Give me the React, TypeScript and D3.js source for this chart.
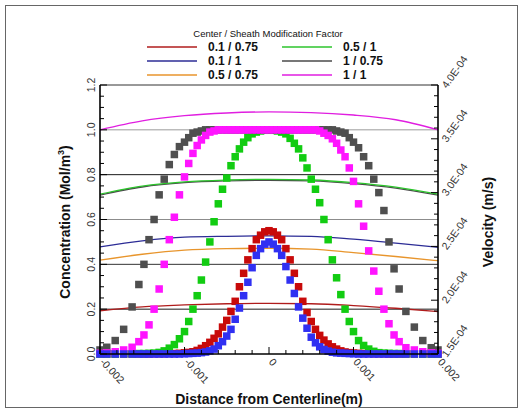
import React from "react";
import * as d3 from "d3";

// node positions across the channel (m)
const distance = [
  -0.002, -0.00192, -0.00182, -0.00172, -0.00162, -0.00154, -0.00148, -0.00142, -0.00136, -0.0013,
  -0.00124, -0.00118, -0.00112, -0.00106, -0.001, -0.00095, -0.0009, -0.00085, -0.0008, -0.00075,
  -0.0007, -0.00065, -0.0006, -0.00055, -0.0005, -0.00045, -0.0004, -0.00035, -0.0003, -0.00025,
  -0.0002, -0.00015, -0.0001, -0.00005, 0, 0.00005, 0.0001, 0.00015, 0.0002, 0.00025,
  0.0003, 0.00035, 0.0004, 0.00045, 0.0005, 0.00055, 0.0006, 0.00065, 0.0007, 0.00075,
  0.0008, 0.00085, 0.0009, 0.00095, 0.001, 0.00106, 0.00112, 0.00118, 0.00124, 0.0013,
  0.00136, 0.00142, 0.00148, 0.00154, 0.00162, 0.00172, 0.00182, 0.00192, 0.002,
];

// concentration (Mol/m3) at each node
const concRed = [
  0, 0, 0, 0, 0, 0, 0, 0, 0.001, 0.001,
  0.001, 0.002, 0.002, 0.003, 0.005, 0.007, 0.01, 0.016, 0.025, 0.037,
  0.052, 0.07, 0.09, 0.12, 0.15, 0.19, 0.235, 0.3, 0.36, 0.42,
  0.47, 0.51, 0.53, 0.545, 0.55, 0.545, 0.53, 0.51, 0.47, 0.42,
  0.36, 0.3, 0.235, 0.185, 0.145, 0.11, 0.083, 0.062, 0.045, 0.032,
  0.022, 0.014, 0.009, 0.006, 0.004, 0.003, 0.002, 0.002, 0.001, 0.001,
  0.001, 0, 0, 0, 0, 0, 0, 0, 0,
];
const concBlue = [
  0, 0, 0, 0, 0, 0, 0, 0, 0, 0,
  0, 0, 0, 0, 0.001, 0.002, 0.003, 0.004, 0.006, 0.009,
  0.014, 0.022, 0.037, 0.055, 0.08, 0.11, 0.155, 0.205, 0.26, 0.32,
  0.385, 0.44, 0.47, 0.49, 0.5, 0.49, 0.47, 0.44, 0.39, 0.33,
  0.27, 0.21, 0.16, 0.115, 0.075, 0.05, 0.032, 0.02, 0.013, 0.008,
  0.005, 0.004, 0.003, 0.002, 0.001, 0, 0, 0, 0, 0,
  0, 0, 0, 0, 0, 0, 0, 0, 0,
];
const concGreen = [
  0, 0, 0, 0.001, 0.001, 0.002, 0.002, 0.003, 0.004, 0.007,
  0.014, 0.026, 0.042, 0.068, 0.1, 0.145, 0.2, 0.26, 0.33, 0.41,
  0.5, 0.59, 0.67, 0.735, 0.785, 0.84, 0.88, 0.915, 0.945, 0.965,
  0.982, 0.99, 0.995, 0.998, 1.0, 0.998, 0.995, 0.99, 0.982, 0.962,
  0.94, 0.915, 0.875, 0.83, 0.78, 0.735, 0.675, 0.6, 0.51, 0.42,
  0.34, 0.265, 0.2, 0.145, 0.1, 0.06, 0.038, 0.022, 0.012, 0.006,
  0.004, 0.003, 0.002, 0.002, 0.001, 0.001, 0, 0, 0,
];
const concGray = [
  0.018, 0.03, 0.06, 0.11, 0.21, 0.31, 0.4, 0.51, 0.6, 0.71,
  0.78, 0.845, 0.89, 0.925, 0.945, 0.965, 0.985, 0.99, 0.995, 1.0,
  1.0, 1.0, 1.0, 1.0, 1.0, 1.0, 1.0, 1.0, 1.0, 1.0,
  1.0, 1.0, 1.0, 1.0, 1.0, 1.0, 1.0, 1.0, 1.0, 1.0,
  1.0, 1.0, 1.0, 1.0, 1.0, 1.0, 1.0, 1.0, 1.0, 1.0,
  0.995, 0.99, 0.985, 0.965, 0.945, 0.92, 0.88, 0.84, 0.78, 0.72,
  0.64, 0.5, 0.38, 0.29, 0.19, 0.12, 0.06, 0.028, 0.018,
];
const concPink = [
  0.003, 0.005, 0.01, 0.018, 0.03, 0.055, 0.085, 0.13, 0.2, 0.29,
  0.4, 0.51, 0.61, 0.71, 0.79, 0.85, 0.895, 0.93, 0.955, 0.975,
  0.99, 0.995, 1.0, 1.0, 1.0, 1.0, 1.0, 1.0, 1.0, 1.0,
  1.0, 1.0, 1.0, 1.0, 1.0, 1.0, 1.0, 1.0, 1.0, 1.0,
  1.0, 1.0, 1.0, 1.0, 1.0, 1.0, 0.995, 0.985, 0.975, 0.96,
  0.94, 0.91, 0.88, 0.83, 0.77, 0.67, 0.57, 0.46, 0.37, 0.28,
  0.2, 0.135, 0.085, 0.055, 0.028, 0.018, 0.01, 0.005, 0.003,
];

// velocity profiles (m/s), right axis
const velDistance = [-0.002, -0.0015, -0.001, -0.0005, 0, 0.0005, 0.001, 0.0015, 0.002];
const velRed = [1.902e-4, 1.938e-4, 1.956e-4, 1.967e-4, 1.971e-4, 1.967e-4, 1.95e-4, 1.925e-4, 1.894e-4];
const velBlue = [2.496e-4, 2.552e-4, 2.586e-4, 2.594e-4, 2.598e-4, 2.594e-4, 2.567e-4, 2.531e-4, 2.492e-4];
const velOrange = [2.373e-4, 2.427e-4, 2.465e-4, 2.479e-4, 2.483e-4, 2.475e-4, 2.442e-4, 2.406e-4, 2.367e-4];
const velGreen = [2.985e-4, 3.06e-4, 3.1e-4, 3.117e-4, 3.123e-4, 3.117e-4, 3.092e-4, 3.05e-4, 2.985e-4];
const velGray = [2.977e-4, 3.052e-4, 3.092e-4, 3.109e-4, 3.115e-4, 3.109e-4, 3.084e-4, 3.042e-4, 2.977e-4];
const velPink = [3.584e-4, 3.667e-4, 3.715e-4, 3.74e-4, 3.75e-4, 3.744e-4, 3.721e-4, 3.677e-4, 3.584e-4];

const concTicks = [0, 0.2, 0.4, 0.6, 0.8, 1.0, 1.2];
const velTicks = [1.5e-4, 2.0e-4, 2.5e-4, 3.0e-4, 3.5e-4, 4.0e-4];
const velTickLabels = ["1.5E-04", "2.0E-04", "2.5E-04", "3.0E-04", "3.5E-04", "4.0E-04"];
const distTicks = [-0.002, -0.001, 0, 0.001, 0.002];
const distTickLabels = ["-0.002", "-0.001", "0", "0.001", "0.002"];
const legendLabels = ["0.1 / 0.75", "0.1 / 1", "0.5 / 0.75", "0.5 / 1", "1 / 0.75", "1 / 1"];

const lineColors = ["#b01c1c", "#2c2c96", "#e8952c", "#2cc42c", "#4a4a4a", "#e01ee0"];
const markColors = { red: "#c80a0a", blue: "#3030f2", green: "#12cc12", gray: "#4f4f4f", pink: "#ff14ff" };
const gridColors = ["#1a1a1a", "#333333", "#8c8c8c", "#1a1a1a", "#9a9a9a"];

const font = "'Liberation Sans', Arial, sans-serif";

export default function App() {
  const left = 100, right = 438, top = 85, bottom = 354;
  const x = d3.scaleLinear().domain([-0.002, 0.002]).range([left, right]);
  const yC = d3.scaleLinear().domain([0, 1.2]).range([bottom, top]);
  const yV = d3.scaleLinear().domain([1.5e-4, 4.0e-4]).range([bottom, top]);

  const velLine = (vals: number[]) =>
    d3
      .line<number>()
      .x((_, i) => x(velDistance[i]))
      .y((d) => yV(d))
      .curve(d3.curveMonotoneX)(vals) as string;

  const lines = [velOrange, velRed, velBlue, velGray, velGreen, velPink];
  const lineCol = [lineColors[2], lineColors[0], lineColors[1], lineColors[4], lineColors[3], lineColors[5]];

  const markers: [number[], string][] = [
    [concRed, markColors.red],
    [concGreen, markColors.green],
    [concGray, markColors.gray],
    [concPink, markColors.pink],
    [concBlue, markColors.blue],
  ];
  const ms = 7.5;

  const concMinor = d3.range(0, 1.2001, 0.05);
  const velMinor = d3.range(1.5e-4, 4.0001e-4, 0.1e-4);
  const distMinor = d3.range(-0.002, 0.00201, 0.0002);

  return (
    <svg width={528} height={410} style={{ position: "absolute", left: 0, top: 0, background: "#fff" }} fontFamily={font}>
      <rect x={5.5} y={5.5} width={512} height={402} fill="none" stroke="#666" strokeWidth={1} />

      {/* grid lines */}
      {concTicks.slice(1, 6).map((t, i) => (
        <line key={"g" + t} x1={left} x2={right} y1={yC(t)} y2={yC(t)} stroke={gridColors[i]} strokeWidth={1} />
      ))}

      {/* velocity lines */}
      {lines.map((vals, i) => (
        <path key={"l" + i} d={velLine(vals)} fill="none" stroke={lineCol[i]} strokeWidth={1.3} />
      ))}

      {/* concentration markers */}
      {markers.map(([vals, col], k) => (
        <g key={"m" + k} fill={col}>
          {vals.map((v, i) => (
            <rect key={i} x={x(distance[i]) - ms / 2} y={yC(v) - ms / 2} width={ms} height={ms} />
          ))}
        </g>
      ))}

      {/* frame */}
      <line x1={left} x2={right} y1={top} y2={top} stroke="#333" strokeWidth={1} />
      <line x1={left} x2={left} y1={top} y2={bottom} stroke="#000" strokeWidth={1.6} />
      <line x1={right} x2={right} y1={top} y2={bottom} stroke="#000" strokeWidth={1.6} />
      <line x1={left} x2={right} y1={bottom} y2={bottom} stroke="#000" strokeWidth={1.6} />

      {/* left axis ticks */}
      {concMinor.map((t, i) => (
        <line key={"cm" + i} x1={left} x2={left + (i % 4 === 0 ? 7 : 4)} y1={yC(t)} y2={yC(t)} stroke="#000" strokeWidth={1} />
      ))}
      {concTicks.map((t) => (
        <text key={"ct" + t} transform={`translate(95,${yC(t)}) rotate(-90)`} textAnchor="middle" fontSize={10.5} fill="#333">
          {d3.format(".1f")(t)}
        </text>
      ))}

      {/* right axis ticks */}
      {velMinor.map((t, i) => (
        <line key={"vm" + i} x1={right} x2={right - (i % 5 === 0 ? 7 : 4)} y1={yV(t)} y2={yV(t)} stroke="#000" strokeWidth={1} />
      ))}
      {velTicks.map((t, i) => (
        <text key={"vt" + t} transform={`translate(444,${yV(t) + 2}) rotate(-55)`} dy="0.35em" fontSize={10.5} fill="#333">
          {velTickLabels[i]}
        </text>
      ))}

      {/* bottom axis ticks */}
      {distMinor.map((t, i) => (
        <line key={"dm" + i} x1={x(t)} x2={x(t)} y1={bottom} y2={bottom - (i % 5 === 0 ? 7 : 4)} stroke="#000" strokeWidth={1} />
      ))}
      {distTicks.map((t, i) => (
        <text key={"dt" + t} transform={`translate(${x(t) + 2},360) rotate(47)`} dy="0.35em" fontSize={10.5} fill="#333">
          {distTickLabels[i]}
        </text>
      ))}

      {/* axis titles */}
      <text transform="translate(70,222) rotate(-90)" textAnchor="middle" fontSize={14} fontWeight="bold" fill="#111">
        Concentration (Mol/m<tspan fontSize={9} dy={-6}>3</tspan><tspan dy={6}>)</tspan>
      </text>
      <text transform="translate(493,222) rotate(-90)" textAnchor="middle" fontSize={14} fontWeight="bold" fill="#111">
        Velocity (m/s)
      </text>
      <text x={269} y={404} textAnchor="middle" fontSize={14} fontWeight="bold" fill="#111">
        Distance from Centerline(m)
      </text>

      {/* legend */}
      <text x={268} y={37} textAnchor="middle" fontSize={9.5} fill="#111">
        Center / Sheath Modification Factor
      </text>
      {legendLabels.map((lab, i) => {
        const col = Math.floor(i / 3);
        const row = i % 3;
        const y = 47 + row * 14;
        const lx = col === 0 ? 147 : 282;
        return (
          <g key={"lg" + i}>
            <line x1={lx} x2={lx + 50} y1={y} y2={y} stroke={lineColors[i]} strokeWidth={1.5} />
            <text x={lx + 61} y={y} dy="0.35em" fontSize={12} fontWeight="bold" fill="#111">
              {lab}
            </text>
          </g>
        );
      })}
    </svg>
  );
}
